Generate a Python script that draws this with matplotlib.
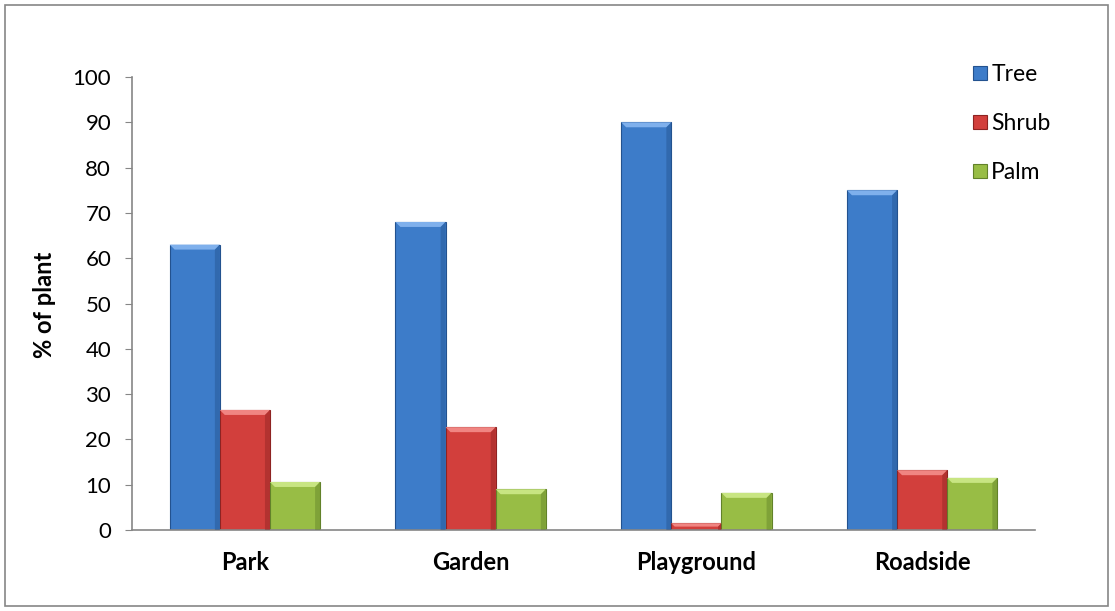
import numpy as np
import matplotlib
matplotlib.use("Agg")
import matplotlib.pyplot as plt
from matplotlib.patches import Polygon, Rectangle

categories = ["Park", "Garden", "Playground", "Roadside"]
tree = [63, 68, 90, 75]
shrub = [26.5, 22.7, 1.5, 13.2]
palm = [10.6, 9, 8.2, 11.5]
series_names = ["Tree", "Shrub", "Palm"]
yticks = [0, 10, 20, 30, 40, 50, 60, 70, 80, 90, 100]

plt.rcParams['font.family'] = ['Lato', 'DejaVu Sans']

face = ["#3d7cc9", "#d23f3c", "#98bd45"]
light = ["#7fb0ec", "#f08582", "#c8e582"]
dark = ["#23528f", "#8e2322", "#62822a"]

fig = plt.figure(figsize=(11.15, 6.11), dpi=100)
ax = fig.add_axes([132 / 1115, 81 / 611, 903 / 1115, 453 / 611])

x = np.arange(len(categories))
w = 0.222
dx = 0.022   # bevel depth in x (data units)
dy = 1.1     # bevel depth in y (data units)

for i, vals in enumerate([tree, shrub, palm]):
    pos = x + (i - 1) * w
    bars = ax.bar(pos, vals, width=w, color=face[i], edgecolor=dark[i],
                  linewidth=0.8, label=series_names[i], zorder=2)
    for b in bars:
        x0, x1 = b.get_x(), b.get_x() + b.get_width()
        h = b.get_height()
        d = min(dy, h / 2)
        ddx = dx * d / dy
        # top bevel
        ax.add_patch(Polygon([(x0, h), (x1, h), (x1 - ddx, h - d), (x0 + ddx, h - d)],
                             closed=True, facecolor=light[i], edgecolor='none', zorder=3))
        # right edge shade
        ax.add_patch(Polygon([(x1, 0), (x1, h), (x1 - ddx, h - d), (x1 - ddx, 0)],
                             closed=True, facecolor=dark[i], edgecolor='none', alpha=0.45, zorder=3))

ax.set_xlim(-0.5, 3.5)
ax.set_ylim(0, 100)
ax.set_yticks(yticks)
ax.set_xticks(x)
ax.set_xticklabels(categories, fontsize=17, fontweight='bold')
ax.tick_params(axis='y', labelsize=16, length=5, color='#868686', pad=10)
ax.tick_params(axis='x', length=0, pad=15)
for s in ['top', 'right']:
    ax.spines[s].set_visible(False)
ax.spines['left'].set_color('#868686')
ax.spines['bottom'].set_color('#868686')
ax.spines['left'].set_linewidth(1.2)
ax.spines['bottom'].set_linewidth(1.2)

fig.text(45 / 1115, 1 - 305 / 611, "% of plant", rotation=90, fontsize=17,
         fontweight='bold', ha='center', va='center')

ax.legend(loc='upper left', bbox_to_anchor=(973 / 1115, 1 - 64 / 611),
          bbox_transform=fig.transFigure, frameon=False, fontsize=16.5,
          handlelength=0.6, handleheight=0.6, handletextpad=0.2,
          labelspacing=1.22, borderpad=0, borderaxespad=0)

fig.patches.append(Rectangle((5 / 1115, 5 / 611), 1103 / 1115, 601 / 611,
                             transform=fig.transFigure, fill=False,
                             edgecolor='#868686', linewidth=1.2))

fig.savefig("out.png", dpi=100)
